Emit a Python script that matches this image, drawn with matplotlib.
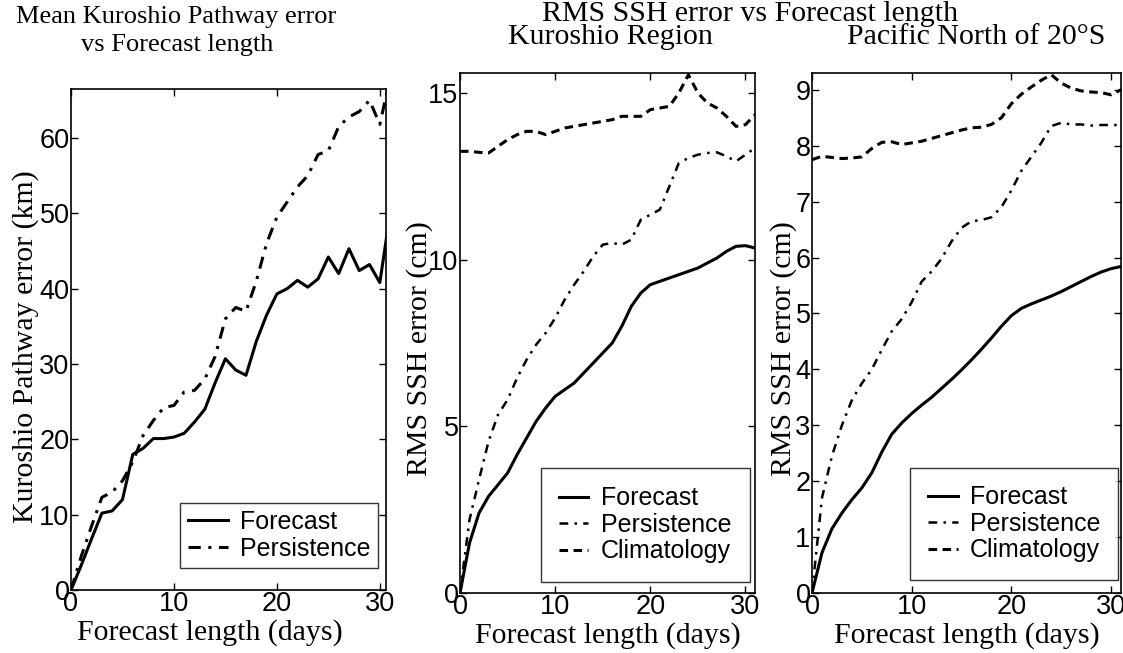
import numpy as np
import matplotlib.pyplot as plt

# Forecast length in days (same sampling for every curve)
days = np.arange(32)

# Mean Kuroshio pathway error (km)
path_forecast = [0, 3.3, 6.8, 10.2, 10.5, 12.0, 18.0, 18.8, 20.1, 20.1, 20.3, 20.8,
                 22.3, 24.0, 27.5, 30.7, 29.2, 28.5, 33.0, 36.5, 39.3, 40.0, 41.1, 40.2,
                 41.3, 44.2, 42.0, 45.3, 42.4, 43.2, 40.8, 50.0]
path_persist = [0, 4.5, 8.5, 12.3, 13.0, 14.5, 17.0, 20.5, 22.5, 24.2, 24.5, 26.3,
                26.5, 28.0, 31.0, 36.0, 37.5, 37.0, 41.0, 46.0, 49.5, 51.5, 53.5, 55.0,
                57.8, 58.3, 61.5, 62.8, 63.5, 65.0, 61.8, 68.0]

# RMS SSH error (cm), Kuroshio region
kur_forecast = [0, 1.5, 2.4, 2.9, 3.25, 3.6, 4.15, 4.65, 5.15, 5.55, 5.9, 6.1, 6.3,
                6.6, 6.9, 7.2, 7.5, 8.0, 8.6, 9.0, 9.25, 9.35, 9.45, 9.55, 9.65, 9.75,
                9.9, 10.05, 10.25, 10.4, 10.42, 10.35]
kur_persist = [0, 2.2, 3.4, 4.55, 5.35, 5.8, 6.45, 7.0, 7.45, 7.8, 8.25, 8.8, 9.25,
               9.65, 10.1, 10.45, 10.5, 10.45, 10.6, 11.2, 11.35, 11.5, 12.2, 12.9,
               13.05, 13.15, 13.2, 13.22, 13.1, 12.95, 13.15, 13.35]
kur_clim = [13.25, 13.25, 13.22, 13.2, 13.4, 13.6, 13.75, 13.85, 13.85, 13.75, 13.85,
            13.95, 14.0, 14.05, 14.1, 14.15, 14.2, 14.3, 14.3, 14.3, 14.5, 14.55, 14.6,
            15.0, 15.55, 15.0, 14.7, 14.55, 14.3, 14.0, 14.05, 14.35]

# RMS SSH error (cm), Pacific north of 20S
pac_forecast = [0, 0.72, 1.15, 1.43, 1.67, 1.88, 2.15, 2.52, 2.84, 3.04, 3.21, 3.36,
                3.5, 3.66, 3.82, 3.99, 4.17, 4.36, 4.56, 4.77, 4.96, 5.09, 5.17, 5.24,
                5.31, 5.39, 5.48, 5.57, 5.66, 5.74, 5.8, 5.84]
pac_persist = [0, 1.7, 2.45, 3.0, 3.45, 3.75, 4.0, 4.35, 4.68, 4.9, 5.2, 5.57, 5.75,
               5.98, 6.29, 6.53, 6.65, 6.67, 6.72, 6.9, 7.2, 7.55, 7.8, 8.05, 8.35,
               8.41, 8.38, 8.38, 8.36, 8.37, 8.37, 8.37]
pac_clim = [7.75, 7.81, 7.79, 7.77, 7.78, 7.8, 7.95, 8.06, 8.07, 8.02, 8.05, 8.08,
            8.13, 8.18, 8.23, 8.28, 8.32, 8.33, 8.38, 8.5, 8.75, 8.92, 9.05, 9.17,
            9.27, 9.12, 9.03, 8.98, 8.96, 8.95, 8.91, 9.0]

serif = ['Liberation Serif', 'DejaVu Serif']
sans = ['Liberation Sans', 'DejaVu Sans']
plt.rcParams['font.family'] = sans

W, H = 1123, 653
fig = plt.figure(figsize=(W / 100, H / 100), dpi=100)

def box(l, t, r, b):
    return [l / W, 1 - b / H, (r - l) / W, (b - t) / H]

ax1 = fig.add_axes(box(71, 89, 386, 590))
ax2 = fig.add_axes(box(460, 73, 755, 593))
ax3 = fig.add_axes(box(812, 73, 1121, 593))

lw = 2.2
solid = dict(color='black', lw=lw, ls='-')
dashdot = dict(color='black', lw=lw, ls=(0, (4, 2.5, 1, 2.5)))
dashdot_thin = dict(color='black', lw=1.8, ls=(0, (3.5, 2.5, 1, 2.5)))
dashed = dict(color='black', lw=lw, ls=(0, (2.8, 1.8)))

ax1.plot(days, path_forecast, label='Forecast', **solid)
ax1.plot(days, path_persist, label='Persistence', **dashdot)
ax1.set_xlim(0, 30.6)
ax1.set_ylim(0, 66.5)
ax1.set_yticks([0, 10, 20, 30, 40, 50, 60])

for ax, f, p, c, top in [(ax2, kur_forecast, kur_persist, kur_clim, 15.6),
                         (ax3, pac_forecast, pac_persist, pac_clim, 9.3)]:
    ax.plot(days, f, label='Forecast', **solid)
    ax.plot(days, p, label='Persistence', **dashdot_thin)
    ax.plot(days, c, label='Climatology', **dashed)
    ax.set_xlim(0, 31)
    ax.set_ylim(0, top)

ax2.set_yticks([0, 5, 10, 15])
ax3.set_yticks(range(10))

# legend placement: right gap, bottom gap (pixels), handle length, border pad
leg_pos = {ax1: (8, 22, 1.6, 0.3), ax2: (5, 11, 1.15, 0.75), ax3: (3, 13, 1.2, 0.7)}

for ax in (ax1, ax2, ax3):
    ax.set_xticks([0, 10, 20, 30])
    ax.tick_params(direction='in', top=True, right=True, length=5, width=1,
                   labelsize=19.5, pad=1)
    for s in ax.spines.values():
        s.set_linewidth(1.2)
    ax.set_xlabel('Forecast length (days)', family=serif, fontsize=21.5, labelpad=1.5)
    bb = ax.get_position()
    rg, bg, hl, bp = leg_pos[ax]
    anchor = (1 - rg / (bb.width * W), bg / (bb.height * H))
    leg = ax.legend(loc='lower right', bbox_to_anchor=anchor, fontsize=18,
                    frameon=True, fancybox=False, edgecolor='black',
                    handlelength=hl, handletextpad=0.5, borderpad=bp,
                    labelspacing=0.1, borderaxespad=0)
    leg.get_frame().set_linewidth(1.0)

ax1.xaxis.label.set_x(0.44)

ax1.set_ylabel('Kuroshio Pathway error (km)', family=serif, fontsize=21.5, labelpad=0)
ax2.set_ylabel('RMS SSH error (cm)', family=serif, fontsize=21.5, labelpad=-3)
ax3.set_ylabel('RMS SSH error (cm)', family=serif, fontsize=21.5, labelpad=-1)
ax1.yaxis.label.set_y(0.485)
ax2.yaxis.label.set_y(0.47)
ax3.yaxis.label.set_y(0.47)

fig.text(176 / W, 1 - 17 / H, 'Mean Kuroshio Pathway error', family=serif,
         fontsize=19, ha='center', va='center')
fig.text(177 / W, 1 - 45 / H, 'vs Forecast length', family=serif,
         fontsize=19, ha='center', va='center')
fig.text(750 / W, 1 - 14 / H, 'RMS SSH error vs Forecast length', family=serif,
         fontsize=21.5, ha='center', va='center')
fig.text(610 / W, 1 - 37 / H, 'Kuroshio Region', family=serif,
         fontsize=21.5, ha='center', va='center')
fig.text(976 / W, 1 - 37 / H, 'Pacific North of 20°S', family=serif,
         fontsize=21.5, ha='center', va='center')

fig.savefig('out.png', dpi=100)
